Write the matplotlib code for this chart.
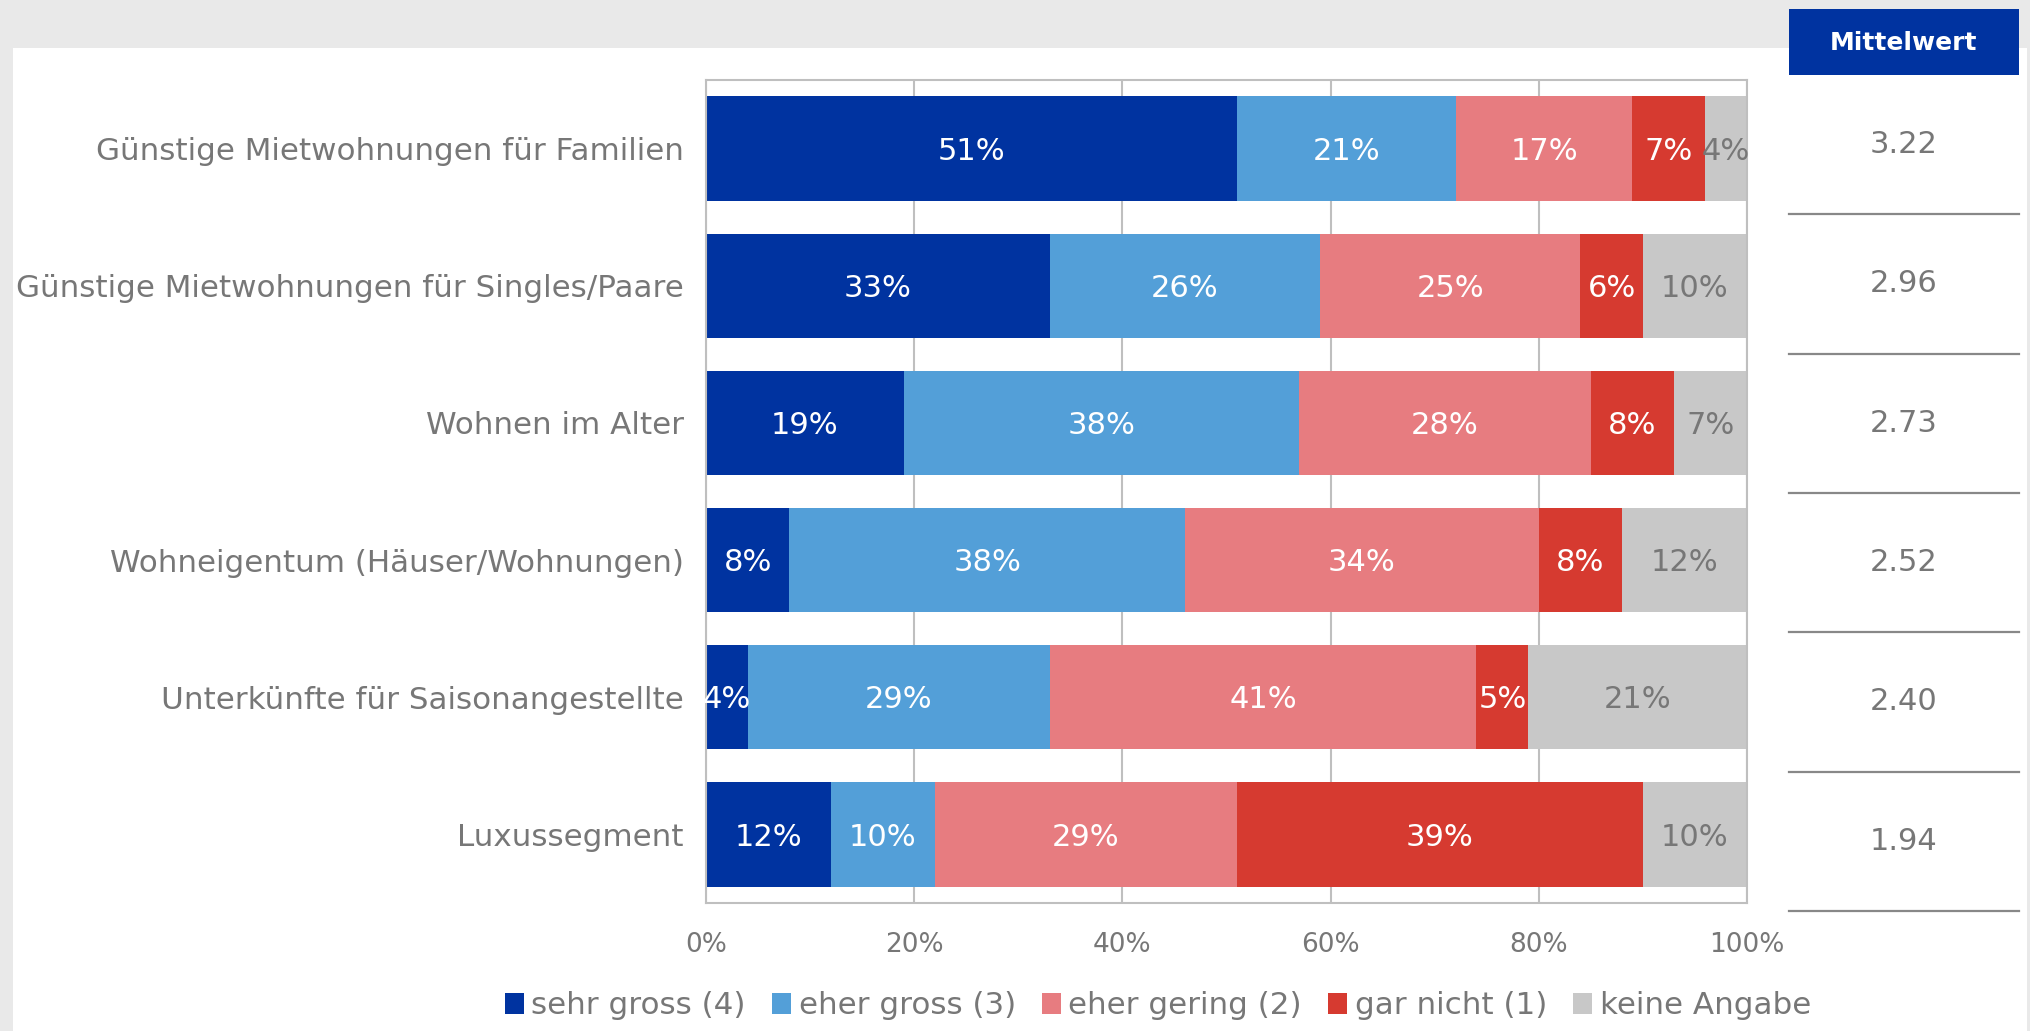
import matplotlib.pyplot as plt
from matplotlib.patches import Rectangle
import numpy as np

# categories (top to bottom) and shares in percent
categories = [
    'Günstige Mietwohnungen für Familien',
    'Günstige Mietwohnungen für Singles/Paare',
    'Wohnen im Alter',
    'Wohneigentum (Häuser/Wohnungen)',
    'Unterkünfte für Saisonangestellte',
    'Luxussegment',
]
sehr_gross = [51, 33, 19, 8, 4, 12]
eher_gross = [21, 26, 38, 38, 29, 10]
eher_gering = [17, 25, 28, 34, 41, 29]
gar_nicht = [7, 6, 8, 8, 5, 39]
keine_angabe = [4, 10, 7, 12, 21, 10]
mittelwert = ['3.22', '2.96', '2.73', '2.52', '2.40', '1.94']

series_names = ['sehr gross (4)', 'eher gross (3)', 'eher gering (2)', 'gar nicht (1)', 'keine Angabe']
series = [sehr_gross, eher_gross, eher_gering, gar_nicht, keine_angabe]
colors = ['#0033A0', '#539FD8', '#E77C80', '#D63A30', '#C8C8C8']
label_colors = ['white', 'white', 'white', 'white', '#777777']

grey_txt = '#777777'

fig = plt.figure(figsize=(20.31, 10.31), dpi=100)
fig.patch.set_facecolor('#E9E9E9')
# white panel, drawn behind the axes
fig.patches.append(Rectangle((13 / 2031, 0), (2027 - 13) / 2031, 1 - 48 / 1031,
                             transform=fig.transFigure, facecolor='white',
                             edgecolor='none', zorder=-1))

ax = fig.add_axes([706 / 2031, 1 - 903 / 1031, (1747 - 706) / 2031, (903 - 80) / 1031])
y = np.arange(len(categories))
left = np.zeros(len(categories))
for name, vals, col, lc in zip(series_names, series, colors, label_colors):
    vals = np.array(vals)
    ax.barh(y, vals, left=left, height=0.76, color=col, label=name, zorder=2)
    for yi, l, v in zip(y, left, vals):
        ax.text(l + v / 2, yi + 0.02, f'{v}%', ha='center', va='center',
                color=lc, fontsize=22, zorder=3)
    left += vals

ax.set_xlim(0, 100)
ax.set_ylim(len(categories) - 0.5, -0.5)
ax.set_yticks(y)
ax.set_yticklabels(categories, fontsize=22.3, color=grey_txt)
ax.set_xticks([0, 20, 40, 60, 80, 100])
ax.set_xticklabels(['0%', '20%', '40%', '60%', '80%', '100%'], fontsize=19, color=grey_txt)
ax.tick_params(axis='y', length=0, pad=16)
ax.tick_params(axis='x', length=0, pad=21)
ax.grid(axis='x', color='#BFBFBF', linewidth=1.5, zorder=1)
ax.set_axisbelow(True)
for s in ax.spines.values():
    s.set_color('#BFBFBF')
    s.set_linewidth(1.5)

# Mittelwert column (own row grid, slightly taller than the bar rows)
ax2 = fig.add_axes([1789 / 2031, 1 - 911 / 1031, (2019 - 1789) / 2031, (911 - 75) / 1031])
ax2.set_xlim(0, 1)
ax2.set_ylim(len(categories), 0)
for yi, m in zip(y, mittelwert):
    ax2.text(0.5, yi + 0.5, m, ha='center', va='center', fontsize=22, color=grey_txt)
    ax2.plot([0, 1], [yi + 1, yi + 1], color='#888888', linewidth=1.6, clip_on=False)
ax2.axis('off')

# header box
fig.patches.append(Rectangle((1789 / 2031, 1 - 75 / 1031), (2019 - 1789) / 2031, 66 / 1031,
                             transform=fig.transFigure, facecolor='#0033A0',
                             edgecolor='none', zorder=1))
fig.text((1789 + 2019) / 2 / 2031, 1 - 43 / 1031, 'Mittelwert', ha='center', va='center',
         fontsize=18, fontweight='bold', color='white')

fig.legend(loc='center', bbox_to_anchor=(1158 / 2031, 1 - 1006 / 1031), ncol=5,
           frameon=False, fontsize=22.3, labelcolor=grey_txt,
           handlelength=0.6, handleheight=0.65, handletextpad=0.25, columnspacing=0.85)

fig.savefig('out.png', dpi=100, facecolor=fig.get_facecolor())
